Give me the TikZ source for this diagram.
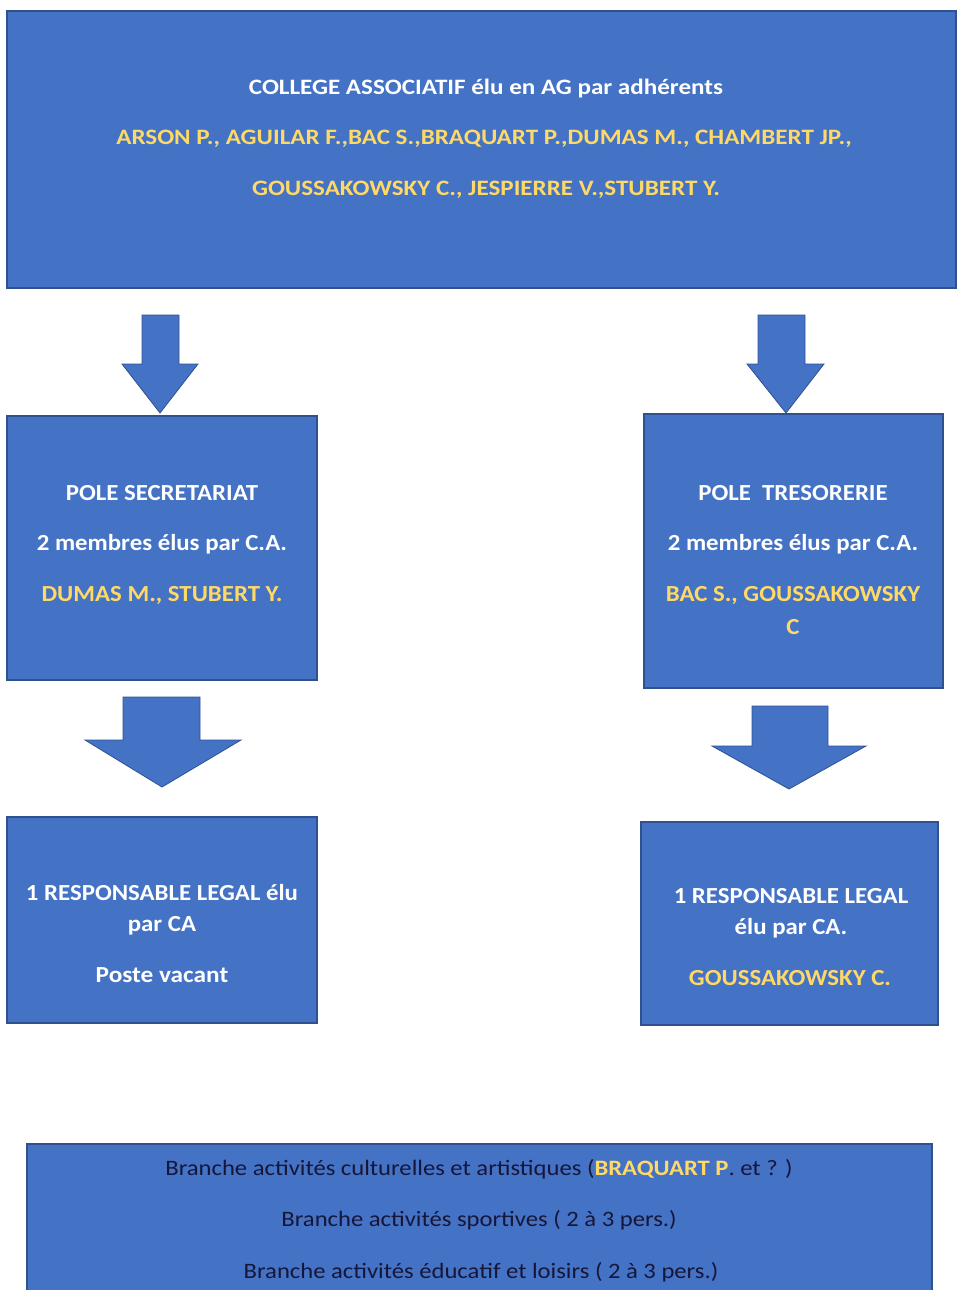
\documentclass[tikz,border=0pt]{standalone}
\usepackage{fontspec}
\setmainfont{Carlito}
\definecolor{boxblue}{HTML}{4472C4}
\definecolor{boxedge}{HTML}{2F528F}
\definecolor{namegold}{HTML}{FFD966}
\definecolor{darktext}{HTML}{16163A}
\newcommand{\hsc}[2]{\scalebox{#1}[1]{#2}}
\begin{document}
\begin{tikzpicture}[x=1pt,y=-1pt,
  blk/.style={fill=boxblue,draw=boxedge,line width=1.2pt,inner sep=0pt},
  arrowshape/.style={fill=boxblue,draw=boxedge,line width=0.8pt,line join=miter},
  wt/.style={text=white,inner sep=0pt,anchor=base,font=\bfseries\fontsize{23}{27}\selectfont},
  yl/.style={text=namegold,inner sep=0pt,anchor=base,font=\bfseries\fontsize{23}{27}\selectfont},
  tp/.style={font=\bfseries\fontsize{22}{26}\selectfont},
  bt/.style={text=darktext,inner sep=0pt,anchor=base,font=\fontsize{22}{26}\selectfont}]
\useasboundingbox (0,0) rectangle (956,1290);
% boxes
\node[blk,minimum width=949pt,minimum height=277pt] (ca) at (481.5,149.5) {};
\node[blk,minimum width=310pt,minimum height=264pt] (sec) at (162,548) {};
\node[blk,minimum width=299pt,minimum height=274pt] (tre) at (793.5,551) {};
\node[blk,minimum width=310pt,minimum height=206pt] (rl) at (162,920) {};
\node[blk,minimum width=297pt,minimum height=203pt] (rr) at (789.5,923.5) {};
\node[blk,minimum width=905pt,minimum height=160pt] (br) at (479.5,1224) {};
% block arrows
\coordinate (p1) at (160,413);
\filldraw[arrowshape] (142,315) -- (179,315) -- (179,364) -- (198,364) -- (p1) -- (122,364) -- (142,364) -- cycle;
\coordinate (p2) at (786,413);
\filldraw[arrowshape] (758,315) -- (805,315) -- (805,364) -- (824,364) -- (p2) -- (747,364) -- (758,364) -- cycle;
\coordinate (p3) at (162,787);
\filldraw[arrowshape] (123,697) -- (200,697) -- (200,740) -- (241,740) -- (p3) -- (85,740) -- (123,740) -- cycle;
\coordinate (p4) at (789,789);
\filldraw[arrowshape] (752,706) -- (828,706) -- (828,746) -- (866,746) -- (p4) -- (712,746) -- (752,746) -- cycle;
% top texts
\node[wt,tp] (t1) at (486,94) {\hsc{1.14}{COLLEGE ASSOCIATIF élu en AG par adhérents}};
\node[yl,tp] (t2) at (484,144) {\hsc{1.14}{ARSON P., AGUILAR F.,BAC S.,BRAQUART P.,DUMAS M., CHAMBERT JP.,}};
\node[yl,tp] (t3) at (486,195) {\hsc{1.14}{GOUSSAKOWSKY C., JESPIERRE V.,STUBERT Y.}};
% secretariat
\node[wt] (s1) at (162,500) {\hsc{1.08}{POLE SECRETARIAT}};
\node[wt] (s2) at (162,550) {\hsc{1.08}{2 membres élus par C.A.}};
\node[yl] (s3) at (162,601) {\hsc{1.08}{DUMAS M., STUBERT Y.}};
% tresorerie
\node[wt] (r1) at (793,500) {\hsc{1.08}{POLE\ \ TRESORERIE}};
\node[wt] (r2) at (793,550) {\hsc{1.08}{2 membres élus par C.A.}};
\node[yl] (r3) at (793,601) {\hsc{1.08}{BAC S., GOUSSAKOWSKY}};
\node[yl] (r4) at (793,634) {\hsc{1.08}{C}};
% responsables
\node[wt] (l1) at (162,900) {\hsc{1.08}{1 RESPONSABLE LEGAL élu}};
\node[wt] (l2) at (162,931) {\hsc{1.08}{par CA}};
\node[wt] (l3) at (162,982) {\hsc{1.1}{Poste vacant}};
\node[wt] (m1) at (791,903) {\hsc{1.08}{1 RESPONSABLE LEGAL}};
\node[wt] (m2) at (791,934) {\hsc{1.08}{élu par CA.}};
\node[yl] (m3) at (790,985) {\hsc{1.08}{GOUSSAKOWSKY C.}};
% branches
\node[bt] (b1) at (479,1175) {\hsc{1.12}{Branche activités culturelles et artistiques (\textcolor{namegold}{\bfseries BRAQUART P}. et ? )}};
\node[bt] (b2) at (479,1226) {\hsc{1.12}{Branche activités sportives ( 2 à 3 pers.)}};
\node[bt] (b3) at (481,1278) {\hsc{1.12}{Branche activités éducatif et loisirs ( 2 à 3 pers.)}};
\end{tikzpicture}
\end{document}
